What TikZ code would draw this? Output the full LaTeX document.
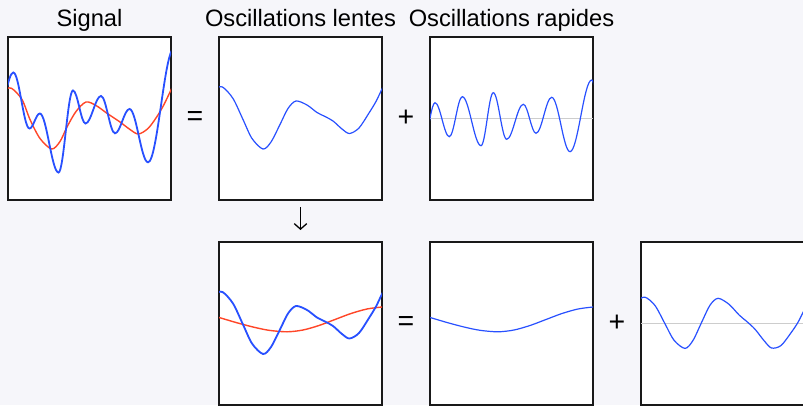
\documentclass[tikz,border=0pt]{standalone}
\usepackage{fontspec}
\setmainfont{Liberation Sans}
\usetikzlibrary{arrows.meta,positioning,calc}

\definecolor{pagebg}{RGB}{246,246,250}
\definecolor{curveblue}{RGB}{40,80,255}
\definecolor{meanred}{RGB}{255,70,40}
\definecolor{axisgray}{RGB}{205,205,205}

\begin{document}
\begin{tikzpicture}[x=1pt, y=1pt,
  every node/.style={font=\fontsize{23.7}{28}\selectfont},
  panel/.style={draw=black!90, line width=1.5pt, fill=white, minimum size=163pt, inner sep=0pt, outer sep=0pt},
  op/.style={font=\fontsize{28.5}{32}\selectfont},
  thinblue/.style={curveblue, line width=1.2pt},
  thickblue/.style={curveblue, line width=1.8pt},
  meanline/.style={meanred, line width=1.4pt},
  zeroline/.style={axisgray, line width=1.5pt}]

  \fill[pagebg] (0,0) rectangle (803,405);
  \useasboundingbox (0,0) rectangle (803,405);

  %% Top row: signal = slow part + fast part
  \node[panel] (signal) at (89.5,286.5) {};
  \node[panel, right=48pt of signal] (slow) {};
  \node[panel, right=48pt of slow] (fast) {};

  %% Bottom row: the slow part split again
  \node[panel, below=42pt of slow] (slowtwo) {};
  \node[panel, right=48pt of slowtwo] (trend) {};
  \node[panel, right=48pt of trend] (detail) {};

  %% Titles
  \node[anchor=base] (signaltitle) at ([yshift=10.5pt]signal.north) {Signal};
  \node[anchor=base] (slowtitle) at ([yshift=10.5pt]slow.north) {Oscillations lentes};
  \node[anchor=base] (fasttitle) at ([yshift=10.5pt]fast.north) {Oscillations rapides};

  %% Operators
  \node[op] (eqtop) at ($(signal.east)!0.5!(slow.west)$) {=};
  \node[op] (plustop) at ($(slow.east)!0.5!(fast.west)$) {+};
  \node[op] (eqbottom) at ($(slowtwo.east)!0.5!(trend.west)$) {=};
  \node[op] (plusbottom) at ($(trend.east)!0.5!(detail.west)$) {+};

  \draw[-{Straight Barb[length=5.5pt,width=12.5pt]}, line width=1.3pt, shorten <=7pt, shorten >=12pt]
    (slow.south) -- (slowtwo.north);

  %% Signal with its mean
  \begin{scope}[shift={(signal.west)}]
    \clip (0,-81.5) rectangle (163,81.5);
    \draw[meanline] plot[smooth] coordinates {(-4,29) (3.5,30.2) (14,19) (22,-1) (32,-20) (43.7,-30.5) (52,-23) (59,-8.5) (68,7) (78,16.5) (88,13) (99,5.2) (112,-3.5) (122,-11) (130.3,-15.5) (140,-10) (149,2) (156,14) (163,28.5) (169,40)};
    \draw[thickblue] (-9,9) \foreach \tx/\ty [remember=\tx as \lx (initially -9)] in
      {5.3/46, 21.5/-10, 31.8/5, 50.5/-54, 65/28, 77.5/-5, 93/22.5, 107/-14.8, 121.5/9.5, 140/-43.8, 166/70}
      { .. controls +({0.364*(\tx-(\lx))},0) and +({-0.364*(\tx-(\lx))},0) .. (\tx,\ty) };
  \end{scope}

  %% Slow part
  \begin{scope}[shift={(slow.west)}]
    \clip (0,-81.5) rectangle (163,81.5);
    \draw[thinblue] plot[smooth] coordinates {(-4,30) (3.5,31.5) (14,20) (24,-1) (33,-20) (44,-30.5) (52,-23.5) (61,-6) (69,10) (77,17.5) (88,13.5) (98,6) (106,2) (114,-2.5) (123,-10.5) (130.5,-15) (140,-9.5) (150,5.5) (157,17) (163,29.5) (169,41)};
  \end{scope}

  %% Fast part
  \draw[zeroline] (fast.west) -- (fast.east);
  \begin{scope}[shift={(fast.west)}]
    \clip (0,-81.5) rectangle (163,81.5);
    \draw[thinblue] (-5,-15) \foreach \tx/\ty [remember=\tx as \lx (initially -5)] in
      {5/15.8, 19.3/-18.2, 32.3/21.8, 51/-27.2, 63.3/25.8, 76.7/-20.8, 93.3/14.2, 106/-14.8, 121.7/21.2, 140/-33.2, 161.7/38.5, 175/-35}
      { .. controls +({0.364*(\tx-(\lx))},0) and +({-0.364*(\tx-(\lx))},0) .. (\tx,\ty) };
  \end{scope}

  %% Slow part with its own mean
  \begin{scope}[shift={(slowtwo.west)}]
    \clip (0,-81.5) rectangle (163,81.5);
    \draw[meanline] plot[smooth] coordinates {(-5,7) (0,6) (17,1) (34,-3.5) (50,-6.8) (68,-8.3) (84,-6.5) (100,-2) (116,4) (132,10) (148,14.5) (163,16.5) (170,17)};
    \draw[thickblue] plot[smooth] coordinates {(-4,30) (3.5,31.5) (14,20) (24,-1) (33,-20) (44,-30.5) (52,-23.5) (61,-6) (69,10) (77,17.5) (88,13.5) (98,6) (106,2) (114,-2.5) (123,-10.5) (130.5,-15) (140,-9.5) (150,5.5) (157,17) (163,29.5) (169,41)};
  \end{scope}

  %% Trend
  \begin{scope}[shift={(trend.west)}]
    \clip (0,-81.5) rectangle (163,81.5);
    \draw[thinblue] plot[smooth] coordinates {(-5,7) (0,6) (17,1) (34,-3.5) (50,-6.8) (68,-8.3) (84,-6.5) (100,-2) (116,4) (132,10) (148,14.5) (163,16.5) (170,17)};
  \end{scope}

  %% Detail
  \draw[zeroline] (detail.west) -- (detail.east);
  \begin{scope}[shift={(detail.west)}]
    \clip (0,-81.5) rectangle (163,81.5);
    \draw[thinblue] plot[smooth] coordinates {(-4,23) (4,26.3) (14,18) (24,-0.3) (33,-16.7) (44,-24.9) (52,-16.9) (61,2) (69,18.3) (77,25.2) (88,19.2) (98,8.6) (106,1.8) (114,-5.7) (123,-17.1) (130.5,-24.5) (140,-22) (150,-9.3) (157,1.2) (163,13) (169,24)};
  \end{scope}

\end{tikzpicture}
\end{document}
